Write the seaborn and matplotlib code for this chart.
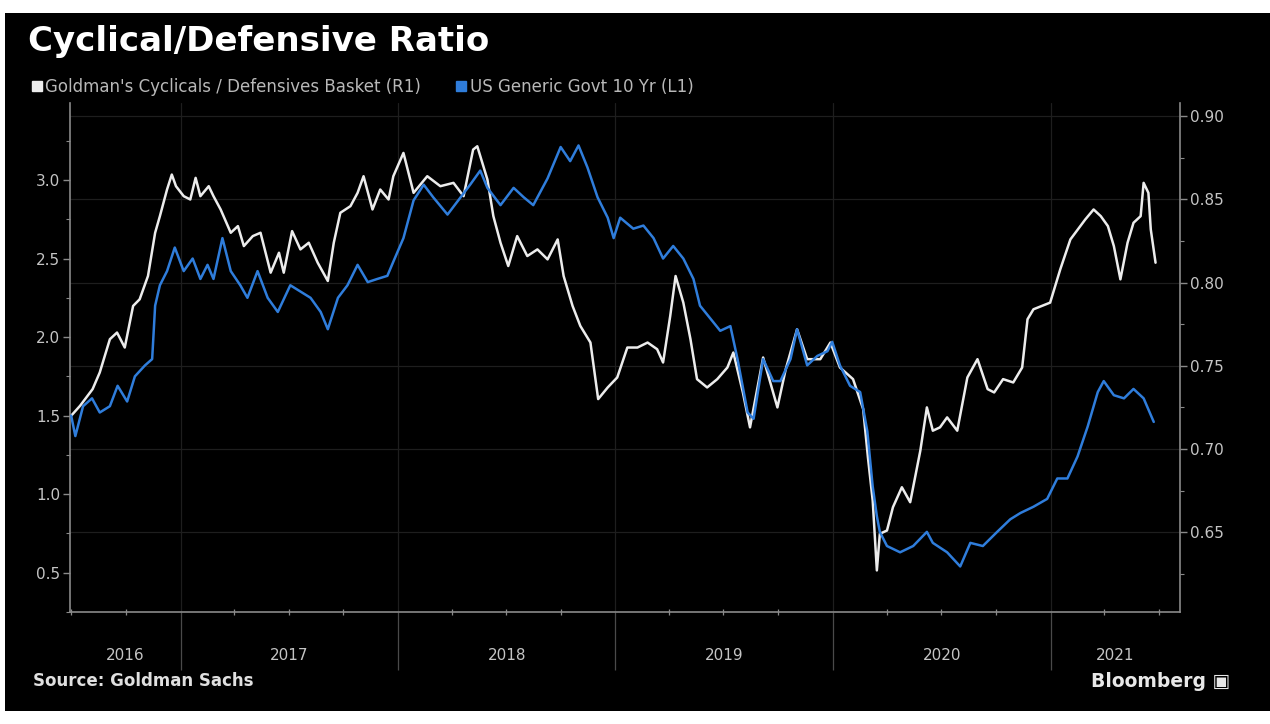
import matplotlib
matplotlib.use("Agg")
import matplotlib.pyplot as plt
import matplotlib.dates as mdates
import matplotlib.transforms as mtransforms
from matplotlib.lines import Line2D
from matplotlib.patches import Rectangle
from matplotlib.ticker import MultipleLocator, FormatStrFormatter
import pandas as pd
import seaborn as sns

# --- Goldman's Cyclicals / Defensives basket (right axis) ---
ratio_dates = [
    "2016-07-01", "2016-07-16", "2016-08-06", "2016-08-18", "2016-09-04", "2016-09-16",
    "2016-09-29", "2016-10-13", "2016-10-24", "2016-11-07", "2016-11-19", "2016-11-27",
    "2016-12-09", "2016-12-17", "2016-12-24",
    "2017-01-06", "2017-01-17", "2017-01-26", "2017-02-03", "2017-02-17", "2017-02-25",
    "2017-03-09", "2017-03-26", "2017-04-07", "2017-04-17", "2017-05-02", "2017-05-15",
    "2017-06-01", "2017-06-15", "2017-06-23", "2017-07-07", "2017-07-21", "2017-08-04",
    "2017-08-19", "2017-09-05", "2017-09-15", "2017-09-26", "2017-10-13", "2017-10-25",
    "2017-11-04", "2017-11-19", "2017-12-02", "2017-12-16", "2017-12-24",
    "2018-01-10", "2018-01-27", "2018-02-19", "2018-03-13", "2018-04-04", "2018-04-21",
    "2018-05-07", "2018-05-14", "2018-05-31", "2018-06-10", "2018-06-22", "2018-07-05",
    "2018-07-20", "2018-08-06", "2018-08-23", "2018-09-09", "2018-09-26", "2018-10-06",
    "2018-10-21", "2018-11-03", "2018-11-20", "2018-12-03", "2018-12-19",
    "2019-01-04", "2019-01-21", "2019-02-07", "2019-02-24", "2019-03-12", "2019-03-22",
    "2019-04-03", "2019-04-12", "2019-04-25", "2019-05-07", "2019-05-18", "2019-06-04",
    "2019-06-21", "2019-07-08", "2019-07-18", "2019-08-03", "2019-08-15", "2019-09-06",
    "2019-09-30", "2019-10-14", "2019-11-02", "2019-11-19", "2019-12-11", "2019-12-28",
    "2020-01-13", "2020-02-04", "2020-02-21", "2020-02-29", "2020-03-08", "2020-03-15",
    "2020-03-20", "2020-04-01", "2020-04-11", "2020-04-26", "2020-05-10", "2020-05-27",
    "2020-06-07", "2020-06-17", "2020-06-29", "2020-07-11", "2020-07-28", "2020-08-14",
    "2020-08-31", "2020-09-17", "2020-09-28", "2020-10-13", "2020-10-30", "2020-11-14",
    "2020-11-23", "2020-12-03", "2020-12-31",
    "2021-01-17", "2021-02-03", "2021-02-28", "2021-03-14", "2021-03-26", "2021-04-07",
    "2021-04-17", "2021-04-28", "2021-05-10", "2021-05-20", "2021-06-01", "2021-06-06",
    "2021-06-14", "2021-06-18", "2021-06-26",
]
ratio_values = [
    0.720, 0.726, 0.736, 0.746, 0.766, 0.770, 0.761, 0.786, 0.790, 0.804, 0.830, 0.840,
    0.856, 0.865, 0.858,
    0.852, 0.850, 0.863, 0.852, 0.858, 0.852, 0.844, 0.830, 0.834, 0.822, 0.828, 0.830,
    0.806, 0.818, 0.806, 0.831, 0.820, 0.824, 0.812, 0.801, 0.824, 0.842, 0.846, 0.854,
    0.864, 0.844, 0.856, 0.850, 0.864,
    0.878, 0.854, 0.864, 0.858, 0.860, 0.852, 0.880, 0.882, 0.862, 0.840, 0.824, 0.810,
    0.828, 0.816, 0.820, 0.814, 0.826, 0.804, 0.786, 0.774, 0.764, 0.730, 0.737,
    0.743, 0.761, 0.761, 0.764, 0.760, 0.752, 0.780, 0.804, 0.788, 0.766, 0.742, 0.737,
    0.742, 0.749, 0.758, 0.734, 0.713, 0.755, 0.725, 0.748, 0.772, 0.754, 0.754, 0.764,
    0.749, 0.742, 0.724, 0.695, 0.669, 0.627, 0.649, 0.651, 0.665, 0.677, 0.668, 0.699,
    0.725, 0.711, 0.713, 0.719, 0.711, 0.743, 0.754, 0.736, 0.734, 0.742, 0.740, 0.749,
    0.778, 0.784, 0.788,
    0.808, 0.826, 0.838, 0.844, 0.840, 0.834, 0.822, 0.802, 0.824, 0.836, 0.840, 0.860,
    0.854, 0.832, 0.812,
]

# --- US Generic Govt 10 Yr (left axis) ---
yield_dates = [
    "2016-07-01", "2016-07-08", "2016-07-21", "2016-08-05", "2016-08-18", "2016-09-04",
    "2016-09-17", "2016-10-03", "2016-10-16", "2016-11-02", "2016-11-14", "2016-11-19",
    "2016-11-27", "2016-12-09", "2016-12-22",
    "2017-01-06", "2017-01-21", "2017-02-03", "2017-02-15", "2017-02-25", "2017-03-12",
    "2017-03-26", "2017-04-11", "2017-04-23", "2017-05-10", "2017-05-27", "2017-06-13",
    "2017-07-04", "2017-07-21", "2017-08-07", "2017-08-24", "2017-09-05", "2017-09-22",
    "2017-10-08", "2017-10-25", "2017-11-11", "2017-11-27", "2017-12-14", "2017-12-24",
    "2018-01-10", "2018-01-27", "2018-02-13", "2018-03-01", "2018-03-25", "2018-04-16",
    "2018-05-02", "2018-05-19", "2018-05-31", "2018-06-22", "2018-07-14", "2018-07-31",
    "2018-08-16", "2018-09-09", "2018-10-01", "2018-10-17", "2018-10-31", "2018-11-15",
    "2018-12-02", "2018-12-19", "2018-12-29",
    "2019-01-09", "2019-01-31", "2019-02-17", "2019-03-06", "2019-03-22", "2019-04-08",
    "2019-04-25", "2019-05-12", "2019-05-23", "2019-06-09", "2019-06-26", "2019-07-13",
    "2019-07-25", "2019-08-11", "2019-08-21", "2019-09-06", "2019-09-23", "2019-10-05",
    "2019-10-22", "2019-11-02", "2019-11-19", "2019-12-06", "2019-12-23", "2019-12-31",
    "2020-01-13", "2020-01-30", "2020-02-16", "2020-02-28", "2020-03-08", "2020-03-15",
    "2020-03-20", "2020-04-01", "2020-04-23", "2020-05-15", "2020-06-07", "2020-06-17",
    "2020-07-11", "2020-08-02", "2020-08-19", "2020-09-09", "2020-10-03", "2020-10-25",
    "2020-11-11", "2020-12-03", "2020-12-26",
    "2021-01-12", "2021-01-29", "2021-02-15", "2021-03-04", "2021-03-21", "2021-03-31",
    "2021-04-17", "2021-05-04", "2021-05-20", "2021-06-06", "2021-06-23",
]
yield_values = [
    1.50, 1.37, 1.56, 1.61, 1.52, 1.56, 1.69, 1.59, 1.75, 1.82, 1.86, 2.20,
    2.33, 2.42, 2.57,
    2.42, 2.50, 2.37, 2.46, 2.37, 2.63, 2.42, 2.33, 2.25, 2.42, 2.25, 2.16,
    2.33, 2.29, 2.25, 2.16, 2.05, 2.25, 2.33, 2.46, 2.35, 2.37, 2.39, 2.48,
    2.63, 2.87, 2.97, 2.89, 2.78, 2.89, 2.97, 3.06, 2.95, 2.84, 2.95, 2.89,
    2.84, 3.01, 3.21, 3.12, 3.22, 3.08, 2.89, 2.76, 2.63,
    2.76, 2.69, 2.71, 2.63, 2.50, 2.58, 2.50, 2.37, 2.20, 2.12, 2.04, 2.07,
    1.86, 1.52, 1.48, 1.86, 1.72, 1.72, 1.86, 2.05, 1.82, 1.88, 1.91, 1.97,
    1.82, 1.69, 1.65, 1.40, 1.05, 0.86, 0.76, 0.67, 0.63, 0.67, 0.76, 0.69,
    0.63, 0.54, 0.69, 0.67, 0.76, 0.84, 0.88, 0.92, 0.97,
    1.10, 1.10, 1.24, 1.43, 1.65, 1.72, 1.63, 1.61, 1.67, 1.61, 1.46,
]

years = [2016, 2017, 2018, 2019, 2020, 2021]
x_start, x_end = "2016-06-29", "2021-08-06"

ratio_df = pd.DataFrame({"date": pd.to_datetime(ratio_dates), "value": ratio_values})
yield_df = pd.DataFrame({"date": pd.to_datetime(yield_dates), "value": yield_values})

WHITE = "#ececec"
BLUE = "#2f7ddb"
TXT = "#c4c4c4"
SPINE = "#8a8a8a"

sns.set_style("dark")
plt.rcParams["font.family"] = ["DejaVu Sans"]

fig = plt.figure(figsize=(12.7, 7.24), dpi=100, facecolor="white")
# black panel inside the thin white border (drawn behind the axes)
fig.patches.append(Rectangle((0.004, 0.018), 0.996, 0.964, transform=fig.transFigure,
                             facecolor="black", edgecolor="none", zorder=-10))

ax = fig.add_axes([0.0551, 0.1547, 0.8740, 0.7030])
ax.set_facecolor("black")
sns.lineplot(data=ratio_df, x="date", y="value", ax=ax, color=WHITE, linewidth=1.8)
ax.set_ylim(0.602, 0.908)

ax2 = ax.twinx()
sns.lineplot(data=yield_df, x="date", y="value", ax=ax2, color=BLUE, linewidth=1.8)
ax2.set_ylim(0.25, 3.49)

# white series reads off the right axis, blue series off the left one
ax.yaxis.tick_right()
ax2.yaxis.tick_left()
ax.yaxis.set_major_locator(MultipleLocator(0.05))
ax.yaxis.set_minor_locator(MultipleLocator(0.025))
ax.yaxis.set_major_formatter(FormatStrFormatter("%.2f"))
ax2.yaxis.set_major_locator(MultipleLocator(0.5))
ax2.yaxis.set_minor_locator(MultipleLocator(0.25))
ax2.yaxis.set_major_formatter(FormatStrFormatter("%.1f"))

for a in (ax, ax2):
    a.set_xlim(pd.Timestamp(x_start), pd.Timestamp(x_end))
    a.set_xlabel("")
    a.set_ylabel("")
    for s in a.spines.values():
        s.set_visible(False)
    a.tick_params(axis="y", which="major", colors=SPINE, labelcolor=TXT, labelsize=11,
                  length=5, width=1, pad=2)
    a.tick_params(axis="y", which="minor", colors=SPINE, length=3, width=0.8)

for side in ("left", "right", "bottom"):
    ax.spines[side].set_visible(True)
    ax.spines[side].set_color(SPINE)
    ax.spines[side].set_linewidth(1.2)

# gridlines on the right axis and at year boundaries
ax.grid(False)
ax2.grid(False)
ax.yaxis.grid(True, which="major", color="#1e1e1e", linewidth=0.9)
ax.xaxis.set_major_locator(mdates.YearLocator())
ax.xaxis.set_minor_locator(mdates.MonthLocator(bymonth=[4, 7, 10]))
ax.xaxis.grid(True, which="major", color="#1e1e1e", linewidth=0.9)
ax.tick_params(axis="x", which="major", bottom=True, length=42, width=0.9,
               colors="#4a4a4a", labelbottom=False, direction="out")
ax.tick_params(axis="x", which="minor", bottom=True, length=4, width=0.9,
               colors=SPINE, direction="inout")
ax2.tick_params(axis="x", which="both", bottom=False, labelbottom=False)

# year labels centred in the visible part of each year
trans = mtransforms.blended_transform_factory(ax.transData, ax.transAxes)
lo, hi = pd.Timestamp(x_start), pd.Timestamp(x_end)
for yr in years:
    a0 = max(pd.Timestamp(f"{yr}-01-01"), lo)
    a1 = min(pd.Timestamp(f"{yr + 1}-01-01"), hi)
    mid = a0 + (a1 - a0) / 2
    ax.text(mid, -0.085, str(yr), transform=trans, ha="center", va="center",
            fontsize=11, color=TXT)

fig.text(0.022, 0.942, "Cyclical/Defensive Ratio", fontsize=24.5, fontweight="bold",
         color="white", va="center")

handles = [
    Line2D([], [], marker="s", linestyle="", color=WHITE, markersize=7),
    Line2D([], [], marker="s", linestyle="", color=BLUE, markersize=7),
]
labels = ["Goldman's Cyclicals / Defensives Basket (R1)", "US Generic Govt 10 Yr (L1)"]
fig.legend(handles, labels, loc="center left", bbox_to_anchor=(0.020, 0.880), ncol=2,
           frameon=False, fontsize=12, labelcolor="#b8b8b8", handlelength=0.6,
           handletextpad=0.2, columnspacing=2.1, borderaxespad=0)

fig.text(0.026, 0.059, "Source: Goldman Sachs", fontsize=12, fontweight="bold",
         color="#e0e0e0", va="center")
fig.text(0.969, 0.059, "Bloomberg \u25A3", fontsize=13.5, fontweight="bold",
         color="#e8e8e8", va="center", ha="right")

fig.savefig("out.png", dpi=100, facecolor=fig.get_facecolor())
